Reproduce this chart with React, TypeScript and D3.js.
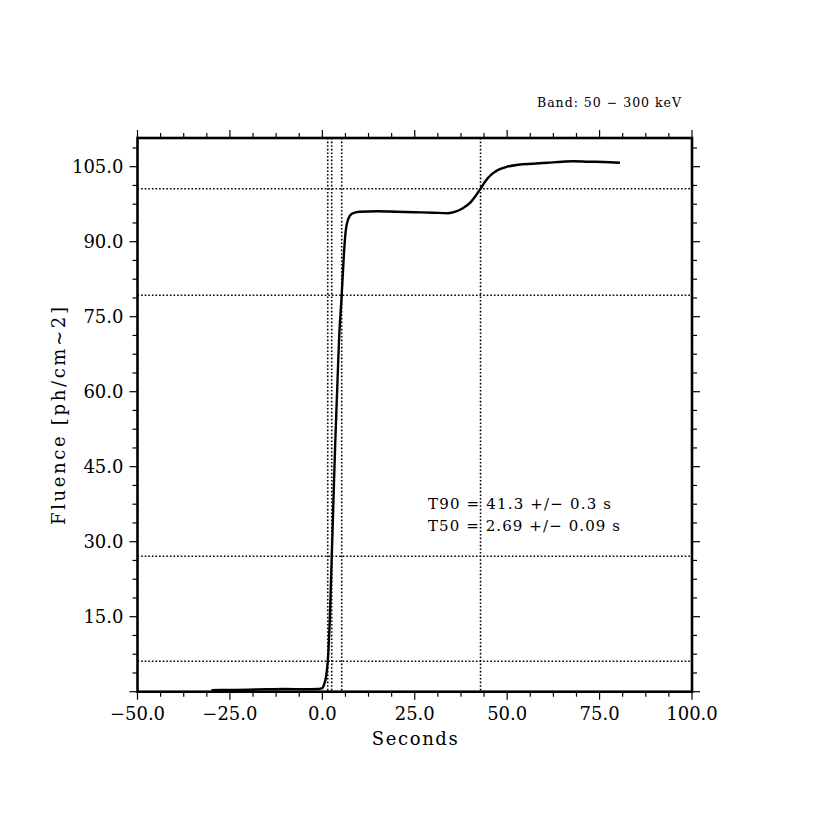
import React from "react";
import * as d3 from "d3";

const seconds = [-30, -25, -20, -15, -10, -5, -1, 0, 0.5, 1.0, 1.5, 2.0, 2.55, 3.0, 3.5, 4.0, 4.5, 5.24, 5.8, 6.3, 7, 8, 10, 15, 20, 25, 30, 34, 36, 38, 40, 41.5, 42.8, 44, 46, 48, 50, 53, 57, 61, 65, 68, 72, 76, 80.5];
const fluence = [0.3, 0.35, 0.4, 0.5, 0.55, 0.5, 0.55, 0.7, 1.5, 3, 6.3, 14, 27.1, 38, 50, 60, 70, 79.3, 87, 92, 94.5, 95.6, 96.0, 96.1, 96.0, 95.9, 95.8, 95.7, 96.0, 96.7, 97.8, 99.2, 100.6, 102.0, 103.6, 104.5, 105.0, 105.4, 105.6, 105.8, 106.0, 106.1, 106.0, 105.95, 105.8];

const levelLines = [6.1, 27.1, 79.3, 100.6];
const timeLines = [1.46, 2.54, 5.24, 42.8];

const xMajor = [-50, -25, 0, 25, 50, 75, 100];
const yMajor = [0, 15, 30, 45, 60, 75, 90, 105];
const yLabels = ["", "15.0", "30.0", "45.0", "60.0", "75.0", "90.0", "105.0"];
const xLabels = ["\u221250.0", "\u221225.0", "0.0", "25.0", "50.0", "75.0", "100.0"];

const annotations = ["T90 = 41.3 +/\u2212 0.3 s", "T50 = 2.69 +/\u2212 0.09 s"];
const annotationWidths = [183, 192];
const bandText = "Band: 50 \u2212 300 keV";

export default function App() {
  const L = 137.5, R = 692, T = 138, B = 691.7;
  const x = d3.scaleLinear().domain([-50, 100]).range([L, R]);
  const y = d3.scaleLinear().domain([0, (B - T) / 5]).range([B, T]);
  const font = "'DejaVu Serif', serif";

  const xMinor = d3.range(-50, 100.01, 6.25).filter((v) => !xMajor.includes(v));
  const yMinor = d3.range(0, y.domain()[1], 3.75).filter((v) => !yMajor.includes(v));

  const line = d3
    .line<number>()
    .x((_, i) => x(seconds[i]))
    .y((d) => y(d))
    .curve(d3.curveMonotoneX);

  const maj = 8, min = 5;
  const tickStroke = { stroke: "#000", strokeWidth: 1.2 };

  return (
    <svg width={830} height={830} style={{ position: "absolute", left: 0, top: 0, background: "#fff" }}>
      <rect width={830} height={830} fill="#fff" />
      {levelLines.map((v, i) => (
        <line key={"h" + i} x1={L} x2={R} y1={y(v)} y2={y(v)} stroke="#000" strokeWidth={1.6} strokeDasharray="1.6,2" />
      ))}
      {timeLines.map((v, i) => (
        <line key={"v" + i} x1={x(v)} x2={x(v)} y1={T} y2={B} stroke="#000" strokeWidth={1.6} strokeDasharray="1.6,2" />
      ))}
      <path d={line(fluence) || ""} fill="none" stroke="#000" strokeWidth={2.4} strokeLinejoin="round" />
      {xMajor.map((v, i) => (
        <g key={"xm" + i}>
          <line x1={x(v)} x2={x(v)} y1={B} y2={B + maj} {...tickStroke} />
          <line x1={x(v)} x2={x(v)} y1={T} y2={T - maj} {...tickStroke} />
        </g>
      ))}
      {xMinor.map((v, i) => (
        <g key={"xn" + i}>
          <line x1={x(v)} x2={x(v)} y1={B} y2={B + min} {...tickStroke} />
          <line x1={x(v)} x2={x(v)} y1={T} y2={T - min} {...tickStroke} />
        </g>
      ))}
      {yMajor.map((v, i) => (
        <g key={"ym" + i}>
          <line x1={L} x2={L - maj} y1={y(v)} y2={y(v)} {...tickStroke} />
          <line x1={R} x2={R + maj} y1={y(v)} y2={y(v)} {...tickStroke} />
        </g>
      ))}
      {yMinor.map((v, i) => (
        <g key={"yn" + i}>
          <line x1={L} x2={L - min} y1={y(v)} y2={y(v)} {...tickStroke} />
          <line x1={R} x2={R + min} y1={y(v)} y2={y(v)} {...tickStroke} />
        </g>
      ))}
      <rect x={L} y={T} width={R - L} height={B - T} fill="none" stroke="#000" strokeWidth={2.6} />
      {xMajor.map((v, i) => (
        <text key={"xl" + i} x={x(v)} y={720} textAnchor="middle" fontFamily={font} fontSize={18} fill="#000">
          {xLabels[i]}
        </text>
      ))}
      {yMajor.map((v, i) => (
        <text key={"yl" + i} x={123.5} y={y(v) + 6.5} textAnchor="end" fontFamily={font} fontSize={18} fill="#000">
          {yLabels[i]}
        </text>
      ))}
      <text
        x={(L + R) / 2}
        y={745}
        textAnchor="middle"
        fontFamily={font}
        fontSize={18}
        textLength={86}
        lengthAdjust="spacing"
        fill="#000"
      >
        Seconds
      </text>
      <text
        transform={`translate(65, 416) rotate(-90)`}
        textAnchor="middle"
        fontFamily={font}
        fontSize={18}
        textLength={218}
        lengthAdjust="spacing"
        fill="#000"
      >
        Fluence [ph/cm~2]
      </text>
      {annotations.map((t, i) => (
        <text
          key={"an" + i}
          x={428}
          y={509 + i * 22}
          fontFamily={font}
          fontSize={15}
          textLength={annotationWidths[i]}
          lengthAdjust="spacing"
          fill="#000"
        >
          {t}
        </text>
      ))}
      <text x={537} y={107} fontFamily={font} fontSize={12.5} textLength={144} lengthAdjust="spacing" fill="#000">
        {bandText}
      </text>
    </svg>
  );
}
